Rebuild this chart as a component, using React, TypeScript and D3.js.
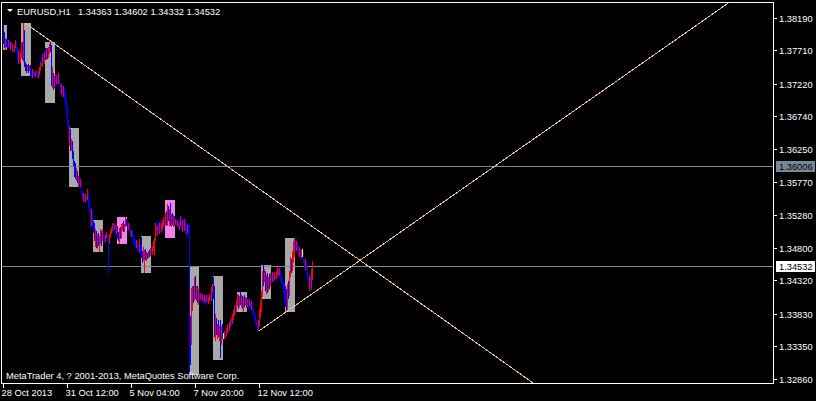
import * as d3 from 'd3';
import * as React from 'react';

// [high, low, close] per H1 bar, open = previous close
type Bar = [number, number, number];

const symbol = 'EURUSD,H1';
const firstOpen = 1.3801;

const oct28: Bar[] = [
  [1.3809, 1.3781, 1.3787], [1.3798, 1.3775, 1.3778], [1.379, 1.3772, 1.3784], [1.3788, 1.3776, 1.3781],
];
const oct29: Bar[] = [
  [1.3786, 1.3774, 1.3778], [1.3787, 1.3776, 1.3785], [1.3788, 1.3774, 1.3776], [1.3784, 1.3772, 1.3781],
  [1.3783, 1.3771, 1.3774], [1.3781, 1.3768, 1.3778], [1.378, 1.3769, 1.3771], [1.3778, 1.3768, 1.3776],
  [1.3787, 1.3774, 1.3784], [1.3785, 1.3769, 1.3772], [1.3775, 1.3757, 1.3762], [1.3772, 1.3751, 1.3769],
  [1.3769, 1.3751, 1.3754], [1.3769, 1.3753, 1.3766], [1.3784, 1.376, 1.3781], [1.3784, 1.3757, 1.3762],
  [1.3812, 1.3754, 1.3798], [1.3801, 1.3747, 1.3751], [1.3754, 1.374, 1.3744], [1.3751, 1.3737, 1.374],
  [1.375, 1.374, 1.3749], [1.3751, 1.3738, 1.3743], [1.375, 1.374, 1.3747], [1.3749, 1.3734, 1.3737],
];
const oct30: Bar[] = [
  [1.374, 1.3732, 1.3735], [1.3743, 1.3731, 1.374], [1.3742, 1.3734, 1.3737], [1.3739, 1.3731, 1.3734],
  [1.3741, 1.3732, 1.374], [1.3742, 1.3734, 1.3737], [1.3739, 1.3729, 1.3732], [1.374, 1.3731, 1.3738],
  [1.3746, 1.3735, 1.3743], [1.3754, 1.374, 1.3751], [1.3762, 1.3746, 1.3749], [1.3766, 1.3746, 1.3763],
  [1.3769, 1.3754, 1.3759], [1.3769, 1.3751, 1.3766], [1.3774, 1.3757, 1.3762], [1.3775, 1.3757, 1.3771],
  [1.3774, 1.3759, 1.3762], [1.3776, 1.376, 1.3774], [1.3781, 1.3766, 1.3778], [1.3784, 1.3769, 1.3772],
  [1.3779, 1.3718, 1.3722], [1.3747, 1.3715, 1.374], [1.3737, 1.3713, 1.3718], [1.3734, 1.3716, 1.3731],
];
const oct31: Bar[] = [
  [1.3736, 1.3722, 1.3726], [1.3735, 1.3722, 1.3731], [1.3733, 1.3719, 1.3724], [1.3737, 1.3722, 1.3733],
  [1.3734, 1.3717, 1.3722], [1.3725, 1.3707, 1.3712], [1.3722, 1.3705, 1.3717], [1.372, 1.3702, 1.3708],
  [1.3718, 1.3703, 1.3713], [1.3716, 1.3699, 1.3703], [1.371, 1.3688, 1.3693], [1.3699, 1.3678, 1.3682],
  [1.3688, 1.3659, 1.3664], [1.3669, 1.3637, 1.3643], [1.3659, 1.363, 1.365], [1.3655, 1.3622, 1.3627],
  [1.364, 1.3622, 1.3633], [1.3637, 1.3611, 1.3616], [1.3622, 1.36, 1.3605], [1.3608, 1.3584, 1.3599],
  [1.3605, 1.3581, 1.3588], [1.3597, 1.3578, 1.3592], [1.3593, 1.3575, 1.3579], [1.3586, 1.3569, 1.3582],
];
const nov1: Bar[] = [
  [1.3584, 1.3571, 1.3575], [1.3581, 1.357, 1.3578], [1.3578, 1.3558, 1.3563], [1.3564, 1.355, 1.3555],
  [1.3561, 1.3548, 1.3558], [1.3559, 1.3546, 1.355], [1.356, 1.3547, 1.3556], [1.3558, 1.3548, 1.3552],
  [1.3567, 1.355, 1.3563], [1.3565, 1.354, 1.3545], [1.3549, 1.3531, 1.3535], [1.354, 1.3508, 1.3512],
  [1.3537, 1.3512, 1.3525], [1.3534, 1.3511, 1.3516], [1.352, 1.3502, 1.3506], [1.3517, 1.349, 1.3493],
  [1.3508, 1.3481, 1.3502], [1.3505, 1.348, 1.3485], [1.35, 1.3478, 1.3496], [1.3502, 1.3483, 1.3487],
  [1.3498, 1.3474, 1.3492], [1.3508, 1.3486, 1.3503], [1.3505, 1.3483, 1.349], [1.3508, 1.349, 1.3502],
];
const nov4: Bar[] = [
  [1.3504, 1.349, 1.3494], [1.3497, 1.3485, 1.349], [1.3499, 1.3488, 1.3496], [1.3503, 1.3494, 1.35],
  [1.3502, 1.349, 1.3493], [1.3496, 1.3442, 1.3488], [1.35, 1.3486, 1.3497], [1.3506, 1.3495, 1.3503],
  [1.3511, 1.35, 1.3508], [1.3516, 1.3505, 1.3512], [1.3515, 1.3503, 1.3509], [1.3517, 1.3506, 1.3514],
  [1.3515, 1.3498, 1.3506], [1.3513, 1.35, 1.351], [1.3512, 1.3493, 1.35], [1.3503, 1.349, 1.3495],
  [1.3509, 1.3486, 1.3505], [1.3511, 1.3493, 1.3498], [1.3515, 1.3495, 1.3511], [1.3517, 1.3505, 1.3514],
  [1.352, 1.3503, 1.3506], [1.3515, 1.3504, 1.3512], [1.3525, 1.351, 1.3521], [1.3522, 1.3512, 1.3516],
];
const nov5: Bar[] = [
  [1.3518, 1.3506, 1.351], [1.3516, 1.3507, 1.3513], [1.3515, 1.3503, 1.3506], [1.3508, 1.3497, 1.35],
  [1.3507, 1.3496, 1.3504], [1.3505, 1.3492, 1.3496], [1.3499, 1.3486, 1.3492], [1.3495, 1.3483, 1.3488],
  [1.349, 1.3479, 1.3483], [1.3492, 1.348, 1.3487], [1.349, 1.3476, 1.348], [1.3484, 1.3472, 1.3476],
  [1.3493, 1.3474, 1.3482], [1.3485, 1.347, 1.3474], [1.3496, 1.3465, 1.3468], [1.3475, 1.3458, 1.3462],
  [1.3481, 1.346, 1.347], [1.3477, 1.3443, 1.3474], [1.3478, 1.3462, 1.3466], [1.3474, 1.346, 1.347],
  [1.3473, 1.3464, 1.3468], [1.3476, 1.3465, 1.3473], [1.3477, 1.3467, 1.3471], [1.348, 1.3468, 1.3477],
];
const nov6: Bar[] = [
  [1.3481, 1.3469, 1.3474], [1.3483, 1.347, 1.348], [1.349, 1.3476, 1.3486], [1.3495, 1.3468, 1.3492],
  [1.3517, 1.349, 1.3512], [1.3518, 1.3499, 1.3503], [1.3513, 1.3497, 1.3508], [1.3519, 1.3502, 1.3505],
  [1.3517, 1.35, 1.3514], [1.352, 1.3504, 1.3508], [1.3517, 1.3502, 1.3513], [1.3521, 1.3506, 1.3517],
  [1.3525, 1.351, 1.3521], [1.3526, 1.3511, 1.3516], [1.3531, 1.3512, 1.3527], [1.3534, 1.3514, 1.352],
  [1.3544, 1.3512, 1.354], [1.3542, 1.3519, 1.3524], [1.3537, 1.3512, 1.3531], [1.3546, 1.3512, 1.3518],
  [1.353, 1.351, 1.3525], [1.3531, 1.3513, 1.3519], [1.3528, 1.351, 1.3524], [1.3527, 1.3512, 1.3516],
];
const nov7: Bar[] = [
  [1.3523, 1.3513, 1.352], [1.3522, 1.3512, 1.3515], [1.3521, 1.3511, 1.3518], [1.352, 1.3508, 1.3512],
  [1.3518, 1.3507, 1.3515], [1.3527, 1.3512, 1.3522], [1.3525, 1.3508, 1.3514], [1.3521, 1.3504, 1.3518],
  [1.3524, 1.3506, 1.3511], [1.3522, 1.3505, 1.3518], [1.3524, 1.35, 1.3507], [1.3515, 1.3495, 1.3502],
  [1.3514, 1.35, 1.3508], [1.3517, 1.3499, 1.3504], [1.3515, 1.3288, 1.3336], [1.338, 1.3307, 1.3332],
  [1.3421, 1.3336, 1.3402], [1.3424, 1.3387, 1.3417], [1.3423, 1.3399, 1.3405], [1.3437, 1.3402, 1.3431],
  [1.3439, 1.3405, 1.3409], [1.3423, 1.3402, 1.3417], [1.3424, 1.3399, 1.3405], [1.342, 1.3396, 1.3414],
];
const nov8: Bar[] = [
  [1.3417, 1.3401, 1.3406], [1.3414, 1.3403, 1.3411], [1.3413, 1.34, 1.3404], [1.3412, 1.3402, 1.3409],
  [1.3411, 1.3397, 1.3401], [1.341, 1.3399, 1.3407], [1.3409, 1.3398, 1.3402], [1.3411, 1.34, 1.3408],
  [1.341, 1.3395, 1.3399], [1.3408, 1.3397, 1.3405], [1.3412, 1.3402, 1.3409], [1.3413, 1.34, 1.3404],
  [1.3422, 1.3402, 1.3417], [1.3427, 1.3413, 1.3423], [1.3437, 1.3405, 1.3411], [1.3424, 1.3348, 1.3358],
  [1.3383, 1.3343, 1.3373], [1.3376, 1.3351, 1.3355], [1.3368, 1.3346, 1.3364], [1.3373, 1.3349, 1.3352],
  [1.3365, 1.3343, 1.3361], [1.3373, 1.3317, 1.3326], [1.3365, 1.3336, 1.3358], [1.3368, 1.3346, 1.3349],
];
const nov11: Bar[] = [
  [1.3355, 1.3346, 1.3349], [1.3358, 1.3346, 1.3354], [1.3357, 1.3347, 1.3351], [1.3362, 1.3349, 1.3358],
  [1.3367, 1.3355, 1.3363], [1.3366, 1.3354, 1.336], [1.3371, 1.3358, 1.3367], [1.3377, 1.3363, 1.3373],
  [1.3378, 1.3364, 1.337], [1.3382, 1.3367, 1.3378], [1.3389, 1.3374, 1.3385], [1.3395, 1.338, 1.3391],
  [1.3396, 1.3383, 1.3388], [1.3401, 1.3385, 1.3397], [1.3412, 1.3394, 1.3408], [1.3411, 1.339, 1.3396],
  [1.3409, 1.3393, 1.3407], [1.3415, 1.3396, 1.3402], [1.3411, 1.3393, 1.3405], [1.3409, 1.339, 1.3395],
  [1.3408, 1.3386, 1.3402], [1.3411, 1.3393, 1.3398], [1.3407, 1.3395, 1.3404], [1.3406, 1.3392, 1.3397],
];
const nov12: Bar[] = [
  [1.3405, 1.3393, 1.3402], [1.3404, 1.339, 1.3396], [1.3404, 1.3394, 1.3401], [1.3403, 1.339, 1.3394],
  [1.3401, 1.3389, 1.3398], [1.3399, 1.3384, 1.3388], [1.3391, 1.3379, 1.3383], [1.3386, 1.3374, 1.3378],
  [1.3381, 1.3368, 1.3372], [1.3375, 1.3363, 1.3367], [1.337, 1.3359, 1.3362], [1.3373, 1.3357, 1.337],
  [1.339, 1.3365, 1.3387], [1.3402, 1.3376, 1.3399], [1.3417, 1.3385, 1.3412], [1.3446, 1.3408, 1.3443],
  [1.3455, 1.3424, 1.3429], [1.3449, 1.3429, 1.3443], [1.3446, 1.3417, 1.342], [1.344, 1.3412, 1.3434],
  [1.3443, 1.3414, 1.3417], [1.3437, 1.3417, 1.3431], [1.3442, 1.342, 1.3424], [1.3443, 1.3423, 1.3437],
];
const nov13: Bar[] = [
  [1.3442, 1.3428, 1.3432], [1.3444, 1.343, 1.344], [1.3442, 1.343, 1.3435], [1.3445, 1.3433, 1.3441],
  [1.3444, 1.3431, 1.3436], [1.3446, 1.3434, 1.3443], [1.3452, 1.3439, 1.3448], [1.345, 1.3436, 1.3441],
  [1.345, 1.3438, 1.3447], [1.3448, 1.3431, 1.3437], [1.3441, 1.3426, 1.3432], [1.3436, 1.3423, 1.3426],
  [1.343, 1.3414, 1.3417], [1.3429, 1.3402, 1.3408], [1.3424, 1.3393, 1.3399], [1.342, 1.3387, 1.3393],
  [1.3426, 1.3386, 1.3417], [1.3431, 1.3405, 1.3411], [1.3446, 1.3409, 1.344], [1.3467, 1.3437, 1.3461],
  [1.3464, 1.3443, 1.3449], [1.3476, 1.3446, 1.347], [1.349, 1.3458, 1.3481], [1.3495, 1.3467, 1.3487],
];
const nov14: Bar[] = [
  [1.3493, 1.3474, 1.3478], [1.349, 1.3475, 1.3484], [1.3493, 1.3476, 1.348], [1.3484, 1.3468, 1.3473],
  [1.3481, 1.3466, 1.3477], [1.3478, 1.3464, 1.347], [1.3477, 1.3464, 1.3474], [1.3478, 1.3466, 1.3474],
  [1.3476, 1.3457, 1.3462], [1.3465, 1.345, 1.3455], [1.3464, 1.3448, 1.346], [1.3461, 1.3442, 1.3447],
  [1.345, 1.3432, 1.3438], [1.3441, 1.3424, 1.3428], [1.3439, 1.3417, 1.3434], [1.3438, 1.3417, 1.3424],
  [1.3449, 1.342, 1.34363], [1.34602, 1.34332, 1.34532],
];

const days = [oct28, oct29, oct30, oct31, nov1, nov4, nov5, nov6, nov7, nov8, nov11, nov12, nov13, nov14];

// session boxes (bar index range + price range)
const sessionStart = [0, 18, 42, 66, 90, 114, 138, 162, 186, 210, 234, 258, 282];
const sessionEnd = [4, 28, 52, 76, 100, 124, 148, 172, 196, 220, 244, 268, 292];
const sessionHigh = [1.3809, 1.3812, 1.3784, 1.3656, 1.3521, 1.3525, 1.3498, 1.355, 1.3451, 1.3439, 1.3415, 1.3455, 1.3495];
const sessionLow = [1.3772, 1.3734, 1.3693, 1.3569, 1.3474, 1.3486, 1.3443, 1.3495, 1.3292, 1.3314, 1.3386, 1.3405, 1.3386];
const sessionUp = [false, false, false, false, false, true, false, true, false, false, false, false, false];

const hLines = [1.36006, 1.34532];
const downTrend: [number, number][] = [[21, 1.3812], [312, 1.3508]];
const upTrend: [number, number][] = [[255, 1.3357], [355, 1.346]];

const priceTicks = ['1.38190', '1.37710', '1.37220', '1.36740', '1.36250', '1.35770', '1.35280', '1.34800', '1.34320', '1.33830', '1.33350', '1.32860'];
const timeLabels = ['28 Oct 2013', '31 Oct 12:00', '5 Nov 04:00', '7 Nov 20:00', '12 Nov 12:00'];
const timeLabelBars = [0, 64, 128, 192, 256];

const W = 816;
const H = 401;
const left = 2;
const top = 2;
const right = 773;
const bottom = 383;
const font = '"Liberation Sans", Arial, sans-serif';
const fs = 9.3;

export default function App() {
  const bars = React.useMemo(() => {
    const flat = days.flat();
    let prev = firstOpen;
    return flat.map(([high, low, close]) => {
      const b = { open: prev, high, low, close };
      prev = close;
      return b;
    });
  }, []);

  const x = d3.scaleLinear().domain([0, 1]).range([3.5, 4.5]);
  const y = d3.scaleLinear().domain([1.32807, 1.38424]).range([bottom, top]);
  const line = d3.line<[number, number]>().x((d) => x(d[0])).y((d) => y(d[1]));

  const ray = (pts: [number, number][]): [number, number][] => {
    const [a, b] = pts;
    const slope = (b[1] - a[1]) / (b[0] - a[0]);
    const end = 900;
    return [a, [end, a[1] + slope * (end - a[0])]];
  };

  const last = bars[bars.length - 1];
  const ohlc = [last.open, last.high, last.low, last.close].map((v) => v.toFixed(5)).join(' ');

  return (
    <svg width={W} height={H} style={{ position: 'absolute', left: 0, top: 0, display: 'block' }} fontFamily={font}>
      <defs>
        <clipPath id="plot">
          <rect x={left} y={top} width={right - left} height={bottom - top} />
        </clipPath>
      </defs>
      <rect x={0} y={0} width={W} height={H} fill="#000" />

      <g shapeRendering="crispEdges" clipPath="url(#plot)">
        {sessionStart.map((s, i) => (
          <rect
            key={i}
            x={x(s) - 0.5}
            y={y(sessionHigh[i])}
            width={x(sessionEnd[i]) - x(s)}
            height={y(sessionLow[i]) - y(sessionHigh[i])}
            fill={sessionUp[i] ? '#EE82EE' : '#A9A9A9'}
          />
        ))}
        {hLines.map((p, i) => (
          <line key={i} x1={left} x2={right} y1={Math.round(y(p)) + 0.5} y2={Math.round(y(p)) + 0.5} stroke="#778899" />
        ))}
        {bars.map((b, i) => (
          <rect
            key={i}
            x={x(i) - 0.5}
            y={y(b.high)}
            width={1}
            height={Math.max(1, y(b.low) - y(b.high))}
            fill={b.close > b.open ? '#FF0000' : b.close < b.open ? '#0000FF' : '#FFFF00'}
          />
        ))}
        <path d={line(ray(downTrend)) ?? ''} fill="none" stroke="#F2C48C" strokeWidth={1} />
        <path d={line(ray(upTrend)) ?? ''} fill="none" stroke="#F2C48C" strokeWidth={1} />
      </g>

      {/* frame */}
      <g shapeRendering="crispEdges" stroke="#fff" fill="none">
        <line x1={1.5} x2={1.5} y1={top} y2={bottom + 1} />
        <line x1={right + 0.5} x2={right + 0.5} y1={top} y2={bottom + 1} />
        <line x1={1} x2={right + 1} y1={top + 0.5} y2={top + 0.5} />
        <line x1={1} x2={right + 1} y1={bottom + 0.5} y2={bottom + 0.5} />
      </g>

      {/* price axis */}
      <g fill="#fff" fontSize={fs}>
        {priceTicks.map((t) => {
          const yy = Math.round(y(+t));
          return (
            <g key={t}>
              <line x1={774} x2={777} y1={yy + 0.5} y2={yy + 0.5} stroke="#fff" shapeRendering="crispEdges" />
              <text x={779} y={yy + 3.5}>{t}</text>
            </g>
          );
        })}
      </g>
      {hLines.map((p, i) => {
        const yy = Math.round(y(p));
        return (
          <g key={i} fontSize={fs}>
            <rect x={776} y={yy - 5} width={39} height={11} fill={i === 0 ? '#778899' : '#fff'} shapeRendering="crispEdges" />
            <text x={779} y={yy + 3.5} fill="#000">{p.toFixed(5)}</text>
          </g>
        );
      })}

      {/* time axis */}
      <g fill="#fff" fontSize={fs}>
        {timeLabels.map((t, i) => {
          const xx = Math.floor(x(timeLabelBars[i]));
          return (
            <g key={t}>
              <line x1={xx + 0.5} x2={xx + 0.5} y1={bottom + 1} y2={bottom + 5} stroke="#fff" shapeRendering="crispEdges" />
              <text x={xx - 1.5} y={396}>{t}</text>
            </g>
          );
        })}
      </g>

      {/* header */}
      <path d="M7,9 L13,9 L10,12 Z" fill="#fff" />
      <text x={17} y={15} fill="#fff" fontSize={fs}>{symbol}</text>
      <text x={78} y={15} fill="#fff" fontSize={fs}>{ohlc}</text>
      <text x={6} y={379} fill="#fff" fontSize={fs}>MetaTrader 4, ? 2001-2013, MetaQuotes Software Corp.</text>
    </svg>
  );
}
